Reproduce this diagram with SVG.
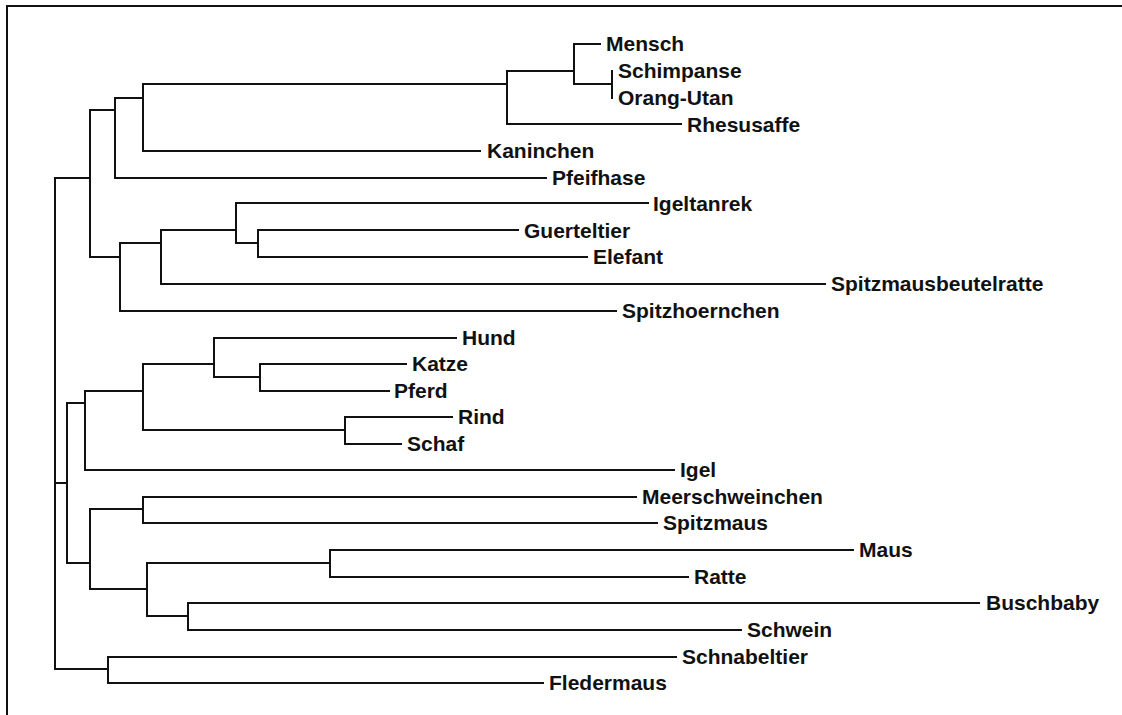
<svg xmlns="http://www.w3.org/2000/svg" width="1122" height="715" viewBox="0 0 1122 715">
<style>
.e{fill:none;stroke:#111;stroke-width:2;stroke-linecap:square}
.l{font-family:"Liberation Sans",Arial,sans-serif;font-weight:bold;font-size:21px;fill:#111}
</style>
<rect width="1122" height="715" fill="#fff"/>
<path class="e" d="M7 715V6H1122"/>
<g id="connectors">
<path class="e" d="M574 44H600M574 44V84H612M612 71V98M507 71H574M507 71V124H681M143 84H507M143 84V151H480M115 98H143M115 98V178H546M90 110H115M90 110V257H120M120 243V311H616M120 243H161M161 230V284H825M161 230H236M236 203V243H258M236 203H648M258 230V257H587M258 230H518"/>
<path class="e" d="M55 178H90M55 178V669H108M55 483H67M67 403V563H90M67 403H85M85 391V470H674M85 391H143M143 364V430H345M143 364H214M214 338V377H260M214 338H456M260 364V391H389M260 364H406M345 417V444H401M345 417H452"/>
<path class="e" d="M90 509V589H147M90 509H143M143 497V523H657M143 497H636M147 563V616H188M147 563H330M330 550V577H688M330 550H853M188 603V630H741M188 603H979M108 657V683H543M108 657H676"/>
</g>
<g id="n-mensch"><text class="l" x="606" y="51">Mensch</text></g>
<g id="n-schimpanse"><text class="l" x="618" y="78">Schimpanse</text></g>
<g id="n-orang"><text class="l" x="618" y="105">Orang-Utan</text></g>
<g id="n-rhesusaffe"><text class="l" x="687" y="132">Rhesusaffe</text></g>
<g id="n-kaninchen"><text class="l" x="487" y="158">Kaninchen</text></g>
<g id="n-pfeifhase"><text class="l" x="552" y="185">Pfeifhase</text></g>
<g id="n-igeltanrek"><text class="l" x="653" y="211">Igeltanrek</text></g>
<g id="n-guerteltier"><text class="l" x="524" y="238">Guerteltier</text></g>
<g id="n-elefant"><text class="l" x="593" y="264">Elefant</text></g>
<g id="n-spitzmausbeutelratte"><text class="l" x="831" y="291">Spitzmausbeutelratte</text></g>
<g id="n-spitzhoernchen"><text class="l" x="622" y="318">Spitzhoernchen</text></g>
<g id="n-hund"><text class="l" x="462" y="345">Hund</text></g>
<g id="n-katze"><text class="l" x="412" y="371">Katze</text></g>
<g id="n-pferd"><text class="l" x="394" y="398">Pferd</text></g>
<g id="n-rind"><text class="l" x="458" y="424">Rind</text></g>
<g id="n-schaf"><text class="l" x="407" y="451">Schaf</text></g>
<g id="n-igel"><text class="l" x="680" y="477">Igel</text></g>
<g id="n-meerschweinchen"><text class="l" x="642" y="504">Meerschweinchen</text></g>
<g id="n-spitzmaus"><text class="l" x="663" y="530">Spitzmaus</text></g>
<g id="n-maus"><text class="l" x="859" y="557">Maus</text></g>
<g id="n-ratte"><text class="l" x="694" y="584">Ratte</text></g>
<g id="n-buschbaby"><text class="l" x="986" y="610">Buschbaby</text></g>
<g id="n-schwein"><text class="l" x="747" y="637">Schwein</text></g>
<g id="n-schnabeltier"><text class="l" x="682" y="664">Schnabeltier</text></g>
<g id="n-fledermaus"><text class="l" x="549" y="690">Fledermaus</text></g>
</svg>
